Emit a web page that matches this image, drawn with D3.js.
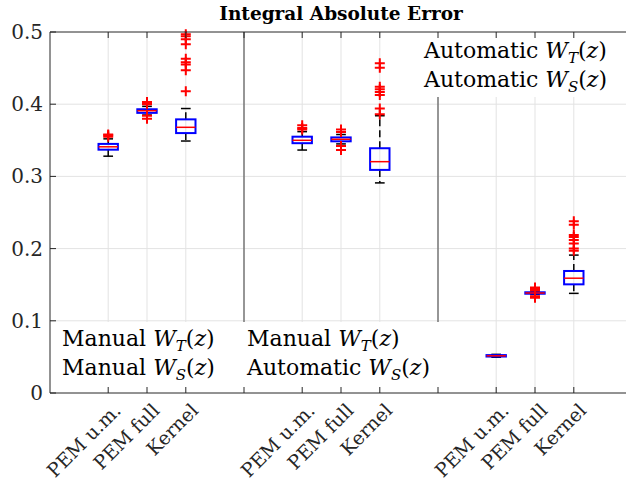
<!DOCTYPE html>
<html><head><meta charset="utf-8">
<script src="https://cdn.jsdelivr.net/npm/d3@7"></script>
<style>body{margin:0;background:#fff}svg{display:block}</style>
</head><body>
<script>
// ---- data ----
const positions = [1, 2, 3, 6, 7, 8, 11, 12, 13];
const categories = ["PEM u.m.", "PEM full", "Kernel", "PEM u.m.", "PEM full", "Kernel", "PEM u.m.", "PEM full", "Kernel"];
const whiskerLow  = [0.328, 0.385, 0.349, 0.3365, 0.345, 0.291, 0.0495, 0.1365, 0.138];
const quartile1   = [0.337, 0.388, 0.360, 0.346, 0.3486, 0.309, 0.0505, 0.1375, 0.1505];
const medians     = [0.341, 0.391, 0.368, 0.350, 0.3514, 0.3204, 0.0515, 0.1385, 0.159];
const quartile3   = [0.345, 0.393, 0.379, 0.355, 0.354, 0.339, 0.0525, 0.1395, 0.169];
const whiskerHigh = [0.352, 0.397, 0.394, 0.362, 0.358, 0.384, 0.0535, 0.1405, 0.191];
const outliers = [
  [0.355, 0.357, 0.358],
  [0.380, 0.384, 0.400, 0.401, 0.403],
  [0.418, 0.447, 0.455, 0.458, 0.463, 0.483, 0.490, 0.494, 0.497],
  [0.365, 0.367, 0.371],
  [0.3365, 0.342, 0.3615, 0.365],
  [0.386, 0.394, 0.4127, 0.417, 0.4206, 0.424, 0.4506, 0.4566],
  [],
  [0.132, 0.134, 0.142, 0.144, 0.146],
  [0.197, 0.200, 0.207, 0.212, 0.216, 0.219, 0.233, 0.238]
];
const separators = [4.5, 9.5];
const xTicks = [1, 2, 3, 4.5, 6, 7, 8, 9.5, 11, 12, 13];
const yTicks = [0, 0.1, 0.2, 0.3, 0.4, 0.5];
const legendTexts = [
  ["Manual", "Manual"],
  ["Manual", "Automatic"],
  ["Automatic", "Automatic"]
];
const title = "Integral Absolute Error";

// ---- drawing ----
const W = 626, H = 486;
const svg = d3.select("body").append("svg").attr("width", W).attr("height", H);
svg.append("rect").attr("width", W).attr("height", H).attr("fill", "#fff");

const x = d3.scaleLinear().domain([-0.5, 14.5]).range([50, 632]);
const y = d3.scaleLinear().domain([0, 0.5]).range([393, 32]);
const axisCol = "#262626";
const font = "'DejaVu Serif', 'Liberation Serif', serif";

// grid
const grid = svg.append("g").attr("stroke", "#e3e3e3").attr("stroke-width", 1);
yTicks.slice(1, -1).forEach(v => grid.append("line").attr("x1", 50).attr("x2", 632).attr("y1", y(v)).attr("y2", y(v)));
xTicks.forEach(v => grid.append("line").attr("x1", x(v)).attr("x2", x(v)).attr("y1", y(0)).attr("y2", y(0.5)));

// boxes
const bw = 0.5, cw = 0.25;
const boxes = svg.append("g");
positions.forEach((p, i) => {
  const g = boxes.append("g");
  g.append("line").attr("x1", x(p)).attr("x2", x(p)).attr("y1", y(quartile3[i])).attr("y2", y(whiskerHigh[i]))
    .attr("stroke", "#000").attr("stroke-width", 1.5).attr("stroke-dasharray", "7,4");
  g.append("line").attr("x1", x(p)).attr("x2", x(p)).attr("y1", y(quartile1[i])).attr("y2", y(whiskerLow[i]))
    .attr("stroke", "#000").attr("stroke-width", 1.5).attr("stroke-dasharray", "7,4");
  [whiskerLow[i], whiskerHigh[i]].forEach(v => g.append("line")
    .attr("x1", x(p - cw / 2)).attr("x2", x(p + cw / 2)).attr("y1", y(v)).attr("y2", y(v))
    .attr("stroke", "#000").attr("stroke-width", 1.5));
  g.append("rect").attr("x", x(p - bw / 2)).attr("width", x(p + bw / 2) - x(p - bw / 2))
    .attr("y", y(quartile3[i])).attr("height", Math.max(0.5, y(quartile1[i]) - y(quartile3[i])))
    .attr("fill", "none").attr("stroke", "#0000ff").attr("stroke-width", 2);
  g.append("line").attr("x1", x(p - bw / 2)).attr("x2", x(p + bw / 2)).attr("y1", y(medians[i])).attr("y2", y(medians[i]))
    .attr("stroke", "#ff0000").attr("stroke-width", 1.5);
  outliers[i].forEach(v => {
    const cx = x(p), cy = y(v), s = 5;
    g.append("path").attr("d", `M${cx - s},${cy}H${cx + s}M${cx},${cy - s}V${cy + s}`)
      .attr("stroke", "#ff0000").attr("stroke-width", 2);
  });
});

// separators
separators.forEach(s => svg.append("line").attr("x1", x(s)).attr("x2", x(s)).attr("y1", y(0)).attr("y2", y(0.5))
  .attr("stroke", "#5a5a5a").attr("stroke-width", 1.2));

// legends
function legend(x0, y0, w, h, tx, ty, words) {
  const g = svg.append("g");
  g.append("rect").attr("x", x0).attr("y", y0).attr("width", w).attr("height", h).attr("fill", "#fff");
  const subs = ["T", "S"];
  words.forEach((wd, k) => {
    const t = g.append("text").attr("x", tx).attr("y", ty + k * 29).attr("font-family", font)
      .attr("font-size", 22).attr("fill", "#000");
    t.append("tspan").text(wd + " ");
    t.append("tspan").attr("font-style", "italic").text("W");
    t.append("tspan").attr("font-style", "italic").attr("font-size", 15).attr("dy", 5).text(subs[k]);
    t.append("tspan").attr("dy", -5).text("(");
    t.append("tspan").attr("font-style", "italic").text("z");
    t.append("tspan").text(")");
  });
}
legend(50, 322, 195, 71, 62, 346, legendTexts[0]);
legend(245, 322, 199, 71, 247, 346, legendTexts[1]);
legend(418, 32, 214, 65, 424, 58, legendTexts[2]);

// axes lines
svg.append("path").attr("d", `M${x(14.5)},${y(0.5)}H${x(-0.5)}V${y(0)}H${x(14.5)}`)
  .attr("fill", "none").attr("stroke", axisCol).attr("stroke-width", 1);
const tl = 6;
const ticks = svg.append("g").attr("stroke", axisCol).attr("stroke-width", 1);
yTicks.forEach(v => ticks.append("line").attr("x1", 50).attr("x2", 50 + tl).attr("y1", y(v)).attr("y2", y(v)));
xTicks.forEach(v => {
  ticks.append("line").attr("x1", x(v)).attr("x2", x(v)).attr("y1", y(0)).attr("y2", y(0) - tl);
  ticks.append("line").attr("x1", x(v)).attr("x2", x(v)).attr("y1", y(0.5)).attr("y2", y(0.5) + tl);
});

// y tick labels
svg.append("g").selectAll("text").data(yTicks).join("text")
  .attr("x", 43).attr("y", d => y(d) + 7).attr("text-anchor", "end")
  .attr("font-family", font).attr("font-size", 20).attr("fill", axisCol)
  .text(d => d === 0 ? "0" : d3.format(".1f")(d));

// x tick labels
svg.append("g").selectAll("text").data(positions).join("text")
  .attr("transform", d => `translate(${x(d) + 9},${407}) rotate(-45)`)
  .attr("text-anchor", "end").attr("dy", "0.35em")
  .attr("font-family", font).attr("font-size", 19).attr("fill", axisCol)
  .text((d, i) => categories[i]);

// title
svg.append("text").attr("x", 341).attr("y", 20).attr("text-anchor", "middle")
  .attr("font-family", font).attr("font-size", 18.5).attr("font-weight", "bold").attr("fill", "#000")
  .text(title);
</script>
</body></html>
